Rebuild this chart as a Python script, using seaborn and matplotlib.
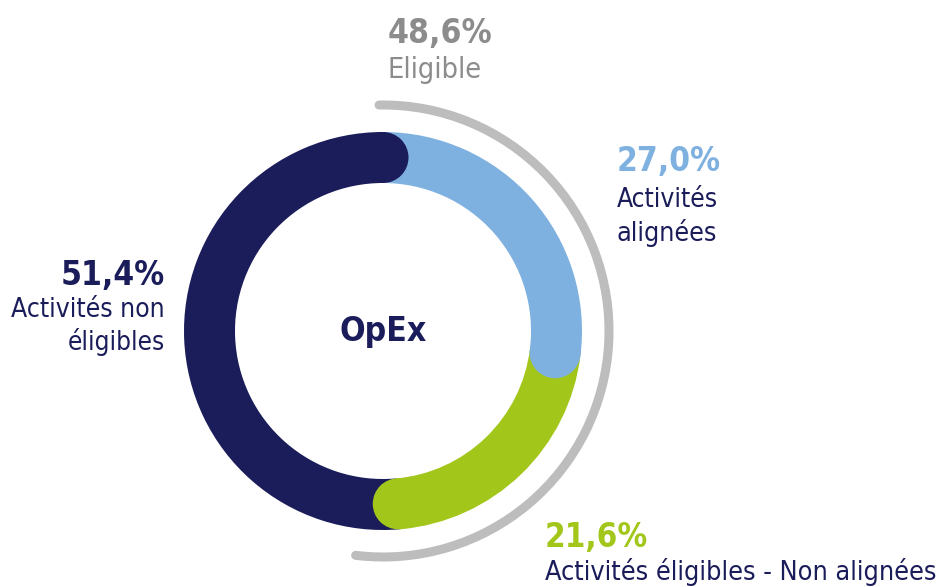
import numpy as np
import matplotlib
matplotlib.use("Agg")
import matplotlib.pyplot as plt
from matplotlib import font_manager as fm
from matplotlib.patches import Circle, Arc
import seaborn as sns

# donnees OpEx
segments = ["Activités alignées", "Activités éligibles - Non alignées", "Activités non éligibles"]
valeurs = [27.0, 21.6, 51.4]
eligible = 48.6
couleurs = ["#7fb1e0", "#a2c61a", "#1b1c5a"]
gris = "#bdbdbd"
gris_txt = "#8c8c8c"
navy = "#1b1c5a"

sns.set_theme(style="white")

# police etroite si dispo (style DIN)
dispo = [(f.name, f.stretch) for f in fm.fontManager.ttflist]
stretch = "normal"
famille = "Roboto"
if ("DejaVu Sans", "condensed") in dispo:
    famille, stretch = "DejaVu Sans", "condensed"
elif any(n == "Roboto Condensed" for n, s in dispo):
    famille = "Roboto Condensed"
plt.rcParams['font.family'] = [famille, 'DejaVu Sans']

W, H = 942, 587
fig = plt.figure(figsize=(W / 100, H / 100), dpi=100)
ax = fig.add_axes([0, 0, 1, 1])

cx, cy = 383, H - 331
R, largeur = 199, 51

ax.pie(valeurs, colors=couleurs, startangle=90, counterclock=False,
       radius=R, center=(cx, cy), frame=True,
       wedgeprops=dict(width=largeur, linewidth=0))
ax.set_xlim(0, W)
ax.set_ylim(0, H)
ax.set_aspect("equal")
ax.axis("off")

# bouts arrondis : chaque segment deborde sur le suivant
rm = R - largeur / 2
cumul = np.cumsum(valeurs)
for v, c in zip(cumul, couleurs):
    a = np.deg2rad(90 - 360 * v / 100)
    ax.add_patch(Circle((cx + rm * np.cos(a), cy + rm * np.sin(a)), largeur / 2,
                        color=c, lw=0, zorder=3))

# arc gris "Eligible"
fin = 90 - 360 * eligible / 100 - 12
ax.add_patch(Arc((cx, cy), 2 * 226, 2 * 226, theta1=fin, theta2=91,
                 color=gris, lw=6.5, capstyle="round", zorder=2))

rend = fig.canvas.get_renderer()


def texte(x, y, s, larg, couleur, ha="left", gras=False):
    t = ax.text(x, H - y, s, fontsize=20, color=couleur, ha=ha, va="center",
                fontweight="bold" if gras else "normal", fontstretch=stretch)
    w = t.get_window_extent(rend).width
    t.set_fontsize(20 * larg / w)
    return t


texte(cx, 332, "OpEx", 87, navy, ha="center", gras=True)

texte(388, 33, "48,6%", 104, gris_txt, gras=True)
texte(388, 70, "Eligible", 94, gris_txt)

texte(617, 162, "27,0%", 104, couleurs[0], gras=True)
texte(617, 200, "Activités", 101, navy)
texte(617, 233, "alignées", 101, navy)

texte(165, 275, "51,4%", 104, navy, ha="right", gras=True)
texte(165, 310, "Activités non", 154, navy, ha="right")
texte(165, 342, "éligibles", 97, navy, ha="right")

texte(545, 537, "21,6%", 103, couleurs[1], gras=True)
texte(545, 572, "Activités éligibles - Non alignées", 393, navy)

fig.savefig("out.png", dpi=100, facecolor="white")
